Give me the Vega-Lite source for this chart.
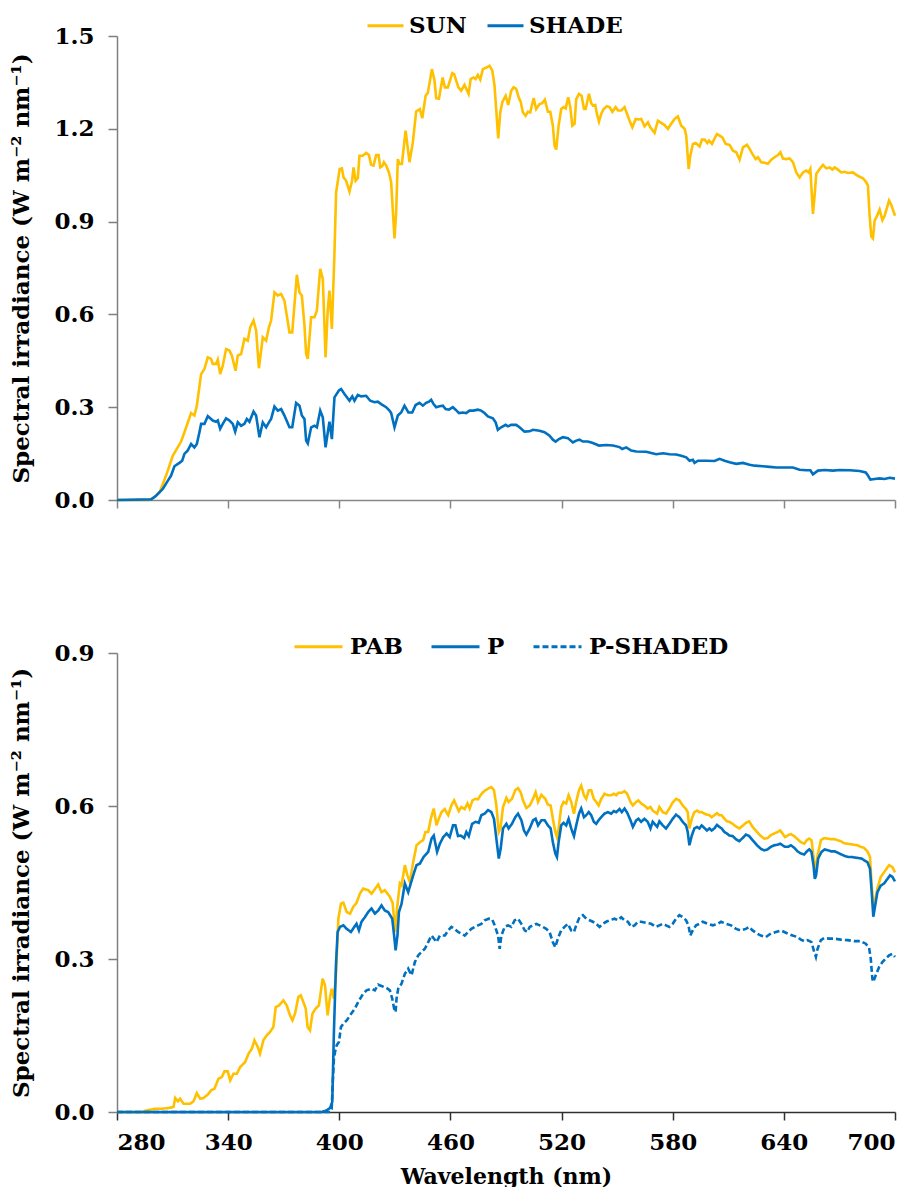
{
"$schema": "https://vega.github.io/schema/vega-lite/v6.json",
"padding": {"left": 10, "top": 6, "right": 20, "bottom": 0},
"spacing": 109,
"config": {
  "font": "DejaVu Serif",
  "view": {"stroke": null},
  "axis": {"labelFont": "DejaVu Serif", "labelFontSize": 23, "labelFontWeight": "bold", "labelColor": "#000000", "titleFont": "DejaVu Serif", "titleFontSize": 23, "titleFontWeight": "bold", "titleColor": "#000000", "grid": false, "tickSize": 9, "tickColor": "#7f7f7f", "domainColor": "#7f7f7f", "tickWidth": 1.5, "domainWidth": 1.5},
  "legend": {"labelFont": "DejaVu Serif", "labelFontSize": 23, "labelFontWeight": "bold", "labelColor": "#000000", "padding": 0}
},
"vconcat": [
{
  "width": 778, "height": 464,
  "data": {"values": [
{"s":"SUN","x":280,"y":0},{"s":"SUN","x":297,"y":0},{"s":"SUN","x":299.4,"y":0.005},{"s":"SUN","x":303,"y":0.025},{"s":"SUN","x":306.5,"y":0.079},{"s":"SUN","x":310.1,"y":0.143},{"s":"SUN","x":314.6,"y":0.189},{"s":"SUN","x":316.4,"y":0.219},{"s":"SUN","x":320,"y":0.281},{"s":"SUN","x":321.8,"y":0.273},{"s":"SUN","x":323.1,"y":0.305},{"s":"SUN","x":325.4,"y":0.407},{"s":"SUN","x":327.2,"y":0.424},{"s":"SUN","x":329,"y":0.461},{"s":"SUN","x":330.8,"y":0.456},{"s":"SUN","x":331.7,"y":0.44},{"s":"SUN","x":333.5,"y":0.44},{"s":"SUN","x":334.4,"y":0.454},{"s":"SUN","x":335.7,"y":0.407},{"s":"SUN","x":337.1,"y":0.434},{"s":"SUN","x":338.9,"y":0.488},{"s":"SUN","x":340.7,"y":0.483},{"s":"SUN","x":342,"y":0.467},{"s":"SUN","x":344,"y":0.418},{"s":"SUN","x":345.2,"y":0.467},{"s":"SUN","x":347,"y":0.472},{"s":"SUN","x":348.8,"y":0.521},{"s":"SUN","x":350.6,"y":0.515},{"s":"SUN","x":351.9,"y":0.558},{"s":"SUN","x":353.7,"y":0.58},{"s":"SUN","x":355.1,"y":0.548},{"s":"SUN","x":356.6,"y":0.426},{"s":"SUN","x":358.7,"y":0.526},{"s":"SUN","x":360.5,"y":0.515},{"s":"SUN","x":362,"y":0.558},{"s":"SUN","x":363.2,"y":0.58},{"s":"SUN","x":365,"y":0.671},{"s":"SUN","x":366.8,"y":0.661},{"s":"SUN","x":368.6,"y":0.666},{"s":"SUN","x":370.4,"y":0.644},{"s":"SUN","x":373.1,"y":0.542},{"s":"SUN","x":374.6,"y":0.542},{"s":"SUN","x":377.1,"y":0.728},{"s":"SUN","x":378.5,"y":0.671},{"s":"SUN","x":379.8,"y":0.661},{"s":"SUN","x":381.2,"y":0.564},{"s":"SUN","x":382.1,"y":0.472},{"s":"SUN","x":383,"y":0.456},{"s":"SUN","x":384.8,"y":0.591},{"s":"SUN","x":386.6,"y":0.591},{"s":"SUN","x":387.9,"y":0.612},{"s":"SUN","x":389.7,"y":0.747},{"s":"SUN","x":391.1,"y":0.715},{"s":"SUN","x":392.6,"y":0.461},{"s":"SUN","x":393.8,"y":0.618},{"s":"SUN","x":394.7,"y":0.677},{"s":"SUN","x":396,"y":0.553},{"s":"SUN","x":397.3,"y":0.78},{"s":"SUN","x":398.3,"y":0.995},{"s":"SUN","x":400.2,"y":1.07},{"s":"SUN","x":401.4,"y":1.072},{"s":"SUN","x":402.3,"y":1.043},{"s":"SUN","x":403.7,"y":1.032},{"s":"SUN","x":405.5,"y":0.997},{"s":"SUN","x":406.9,"y":1.032},{"s":"SUN","x":407.7,"y":1.075},{"s":"SUN","x":408.8,"y":1.032},{"s":"SUN","x":410,"y":1.04},{"s":"SUN","x":410.9,"y":1.113},{"s":"SUN","x":412.7,"y":1.113},{"s":"SUN","x":414.5,"y":1.122},{"s":"SUN","x":416,"y":1.115},{"s":"SUN","x":417.2,"y":1.084},{"s":"SUN","x":418.5,"y":1.081},{"s":"SUN","x":419.9,"y":1.115},{"s":"SUN","x":421.2,"y":1.115},{"s":"SUN","x":422.1,"y":1.075},{"s":"SUN","x":423.2,"y":1.079},{"s":"SUN","x":424.1,"y":1.092},{"s":"SUN","x":425.3,"y":1.081},{"s":"SUN","x":426.8,"y":1.059},{"s":"SUN","x":428,"y":1.027},{"s":"SUN","x":429.8,"y":0.846},{"s":"SUN","x":430.7,"y":0.93},{"s":"SUN","x":431.6,"y":1.102},{"s":"SUN","x":432.5,"y":1.086},{"s":"SUN","x":433.8,"y":1.086},{"s":"SUN","x":435.8,"y":1.194},{"s":"SUN","x":437.9,"y":1.092},{"s":"SUN","x":439.7,"y":1.156},{"s":"SUN","x":441.5,"y":1.256},{"s":"SUN","x":443.5,"y":1.264},{"s":"SUN","x":444.8,"y":1.234},{"s":"SUN","x":446.6,"y":1.307},{"s":"SUN","x":447.8,"y":1.316},{"s":"SUN","x":450,"y":1.393},{"s":"SUN","x":451.4,"y":1.356},{"s":"SUN","x":452.3,"y":1.299},{"s":"SUN","x":453.8,"y":1.297},{"s":"SUN","x":455.8,"y":1.366},{"s":"SUN","x":457,"y":1.334},{"s":"SUN","x":458.6,"y":1.334},{"s":"SUN","x":461,"y":1.38},{"s":"SUN","x":462,"y":1.377},{"s":"SUN","x":464.3,"y":1.334},{"s":"SUN","x":465.8,"y":1.323},{"s":"SUN","x":467.6,"y":1.342},{"s":"SUN","x":469.8,"y":1.313},{"s":"SUN","x":470.9,"y":1.361},{"s":"SUN","x":472.5,"y":1.366},{"s":"SUN","x":473.6,"y":1.361},{"s":"SUN","x":474.8,"y":1.374},{"s":"SUN","x":476.1,"y":1.359},{"s":"SUN","x":477.5,"y":1.393},{"s":"SUN","x":479.7,"y":1.399},{"s":"SUN","x":481.1,"y":1.404},{"s":"SUN","x":482.6,"y":1.388},{"s":"SUN","x":483.8,"y":1.34},{"s":"SUN","x":484.7,"y":1.264},{"s":"SUN","x":485.8,"y":1.169},{"s":"SUN","x":486.9,"y":1.253},{"s":"SUN","x":488,"y":1.286},{"s":"SUN","x":489.8,"y":1.307},{"s":"SUN","x":491.2,"y":1.277},{"s":"SUN","x":492.8,"y":1.323},{"s":"SUN","x":494.1,"y":1.334},{"s":"SUN","x":495.5,"y":1.329},{"s":"SUN","x":497,"y":1.299},{"s":"SUN","x":497.9,"y":1.288},{"s":"SUN","x":499.1,"y":1.253},{"s":"SUN","x":500.6,"y":1.242},{"s":"SUN","x":501.8,"y":1.255},{"s":"SUN","x":503.1,"y":1.253},{"s":"SUN","x":504.9,"y":1.299},{"s":"SUN","x":506.3,"y":1.264},{"s":"SUN","x":508.1,"y":1.28},{"s":"SUN","x":509.6,"y":1.283},{"s":"SUN","x":511,"y":1.294},{"s":"SUN","x":512.6,"y":1.255},{"s":"SUN","x":513.9,"y":1.255},{"s":"SUN","x":515.3,"y":1.21},{"s":"SUN","x":516.2,"y":1.146},{"s":"SUN","x":517.1,"y":1.133},{"s":"SUN","x":518.4,"y":1.21},{"s":"SUN","x":519.8,"y":1.264},{"s":"SUN","x":521.1,"y":1.27},{"s":"SUN","x":522.2,"y":1.266},{"s":"SUN","x":523.6,"y":1.302},{"s":"SUN","x":524.7,"y":1.27},{"s":"SUN","x":525.8,"y":1.21},{"s":"SUN","x":527,"y":1.216},{"s":"SUN","x":527.9,"y":1.296},{"s":"SUN","x":529.4,"y":1.313},{"s":"SUN","x":530.8,"y":1.307},{"s":"SUN","x":532.1,"y":1.264},{"s":"SUN","x":533,"y":1.264},{"s":"SUN","x":534.8,"y":1.313},{"s":"SUN","x":536,"y":1.283},{"s":"SUN","x":536.9,"y":1.275},{"s":"SUN","x":538.2,"y":1.277},{"s":"SUN","x":539.1,"y":1.248},{"s":"SUN","x":540.2,"y":1.223},{"s":"SUN","x":541.4,"y":1.248},{"s":"SUN","x":542.7,"y":1.264},{"s":"SUN","x":544.5,"y":1.273},{"s":"SUN","x":545.9,"y":1.27},{"s":"SUN","x":547.4,"y":1.255},{"s":"SUN","x":549.2,"y":1.27},{"s":"SUN","x":550.4,"y":1.259},{"s":"SUN","x":552.2,"y":1.259},{"s":"SUN","x":554,"y":1.27},{"s":"SUN","x":556.7,"y":1.226},{"s":"SUN","x":558.2,"y":1.205},{"s":"SUN","x":560,"y":1.232},{"s":"SUN","x":561.6,"y":1.23},{"s":"SUN","x":563,"y":1.232},{"s":"SUN","x":564.8,"y":1.208},{"s":"SUN","x":566.6,"y":1.221},{"s":"SUN","x":567.9,"y":1.205},{"s":"SUN","x":570.2,"y":1.187},{"s":"SUN","x":572,"y":1.226},{"s":"SUN","x":573.8,"y":1.219},{"s":"SUN","x":575.6,"y":1.212},{"s":"SUN","x":577.4,"y":1.2},{"s":"SUN","x":579.2,"y":1.216},{"s":"SUN","x":581,"y":1.232},{"s":"SUN","x":582.8,"y":1.24},{"s":"SUN","x":584.6,"y":1.21},{"s":"SUN","x":586.4,"y":1.2},{"s":"SUN","x":587.3,"y":1.178},{"s":"SUN","x":588.6,"y":1.07},{"s":"SUN","x":589.5,"y":1.113},{"s":"SUN","x":590.9,"y":1.151},{"s":"SUN","x":592.4,"y":1.154},{"s":"SUN","x":594.5,"y":1.143},{"s":"SUN","x":595.8,"y":1.165},{"s":"SUN","x":597.2,"y":1.165},{"s":"SUN","x":598.7,"y":1.154},{"s":"SUN","x":599.6,"y":1.162},{"s":"SUN","x":601.2,"y":1.151},{"s":"SUN","x":602.6,"y":1.169},{"s":"SUN","x":603.9,"y":1.183},{"s":"SUN","x":605.3,"y":1.178},{"s":"SUN","x":606.8,"y":1.172},{"s":"SUN","x":608.6,"y":1.151},{"s":"SUN","x":610.7,"y":1.148},{"s":"SUN","x":612.5,"y":1.129},{"s":"SUN","x":614.3,"y":1.124},{"s":"SUN","x":616.1,"y":1.1},{"s":"SUN","x":617.9,"y":1.14},{"s":"SUN","x":620.1,"y":1.148},{"s":"SUN","x":621.5,"y":1.135},{"s":"SUN","x":623,"y":1.119},{"s":"SUN","x":624.8,"y":1.102},{"s":"SUN","x":626,"y":1.108},{"s":"SUN","x":627.8,"y":1.092},{"s":"SUN","x":629.6,"y":1.09},{"s":"SUN","x":631.4,"y":1.087},{"s":"SUN","x":633.2,"y":1.1},{"s":"SUN","x":635,"y":1.108},{"s":"SUN","x":636.8,"y":1.115},{"s":"SUN","x":638.1,"y":1.124},{"s":"SUN","x":639.5,"y":1.104},{"s":"SUN","x":641.3,"y":1.102},{"s":"SUN","x":643.1,"y":1.104},{"s":"SUN","x":644.9,"y":1.092},{"s":"SUN","x":646.7,"y":1.059},{"s":"SUN","x":648.5,"y":1.043},{"s":"SUN","x":650.3,"y":1.059},{"s":"SUN","x":652.1,"y":1.065},{"s":"SUN","x":653.4,"y":1.059},{"s":"SUN","x":654.3,"y":1.07},{"s":"SUN","x":655.7,"y":0.925},{"s":"SUN","x":656.6,"y":0.984},{"s":"SUN","x":657.5,"y":1.054},{"s":"SUN","x":659.3,"y":1.07},{"s":"SUN","x":661.1,"y":1.083},{"s":"SUN","x":662.9,"y":1.072},{"s":"SUN","x":664.7,"y":1.075},{"s":"SUN","x":666.2,"y":1.068},{"s":"SUN","x":667.4,"y":1.075},{"s":"SUN","x":669.2,"y":1.068},{"s":"SUN","x":671,"y":1.059},{"s":"SUN","x":672.8,"y":1.061},{"s":"SUN","x":674.6,"y":1.057},{"s":"SUN","x":677.3,"y":1.059},{"s":"SUN","x":679.1,"y":1.051},{"s":"SUN","x":680.9,"y":1.045},{"s":"SUN","x":682.7,"y":1.04},{"s":"SUN","x":684.5,"y":1.027},{"s":"SUN","x":685.4,"y":1.016},{"s":"SUN","x":686.3,"y":0.919},{"s":"SUN","x":687.2,"y":0.852},{"s":"SUN","x":688.1,"y":0.846},{"s":"SUN","x":689,"y":0.903},{"s":"SUN","x":690.5,"y":0.921},{"s":"SUN","x":691.7,"y":0.939},{"s":"SUN","x":693.2,"y":0.905},{"s":"SUN","x":694.4,"y":0.919},{"s":"SUN","x":696.8,"y":0.968},{"s":"SUN","x":698,"y":0.954},{"s":"SUN","x":700,"y":0.919},
{"s":"SHADE","x":280,"y":0},{"s":"SHADE","x":298.4,"y":0.002},{"s":"SHADE","x":301.1,"y":0.014},{"s":"SHADE","x":304.7,"y":0.036},{"s":"SHADE","x":307.4,"y":0.062},{"s":"SHADE","x":309.2,"y":0.079},{"s":"SHADE","x":311,"y":0.109},{"s":"SHADE","x":313.7,"y":0.12},{"s":"SHADE","x":315.2,"y":0.127},{"s":"SHADE","x":316.4,"y":0.149},{"s":"SHADE","x":318.2,"y":0.16},{"s":"SHADE","x":320,"y":0.181},{"s":"SHADE","x":321.8,"y":0.17},{"s":"SHADE","x":323.1,"y":0.181},{"s":"SHADE","x":324.5,"y":0.219},{"s":"SHADE","x":325.4,"y":0.246},{"s":"SHADE","x":327.2,"y":0.246},{"s":"SHADE","x":329,"y":0.271},{"s":"SHADE","x":330.3,"y":0.264},{"s":"SHADE","x":331.7,"y":0.257},{"s":"SHADE","x":333.5,"y":0.253},{"s":"SHADE","x":334.4,"y":0.257},{"s":"SHADE","x":335.7,"y":0.23},{"s":"SHADE","x":337.1,"y":0.246},{"s":"SHADE","x":338.9,"y":0.264},{"s":"SHADE","x":340.7,"y":0.257},{"s":"SHADE","x":342.5,"y":0.246},{"s":"SHADE","x":343.8,"y":0.221},{"s":"SHADE","x":345.2,"y":0.251},{"s":"SHADE","x":347,"y":0.24},{"s":"SHADE","x":348.8,"y":0.246},{"s":"SHADE","x":350.1,"y":0.262},{"s":"SHADE","x":351.5,"y":0.253},{"s":"SHADE","x":353.7,"y":0.286},{"s":"SHADE","x":355.1,"y":0.273},{"s":"SHADE","x":356.9,"y":0.203},{"s":"SHADE","x":358.7,"y":0.251},{"s":"SHADE","x":360.5,"y":0.235},{"s":"SHADE","x":362,"y":0.251},{"s":"SHADE","x":363.2,"y":0.262},{"s":"SHADE","x":365,"y":0.302},{"s":"SHADE","x":366.8,"y":0.289},{"s":"SHADE","x":368.6,"y":0.294},{"s":"SHADE","x":370.4,"y":0.273},{"s":"SHADE","x":373.1,"y":0.235},{"s":"SHADE","x":374.6,"y":0.235},{"s":"SHADE","x":376.7,"y":0.314},{"s":"SHADE","x":378.5,"y":0.305},{"s":"SHADE","x":379.8,"y":0.273},{"s":"SHADE","x":381.2,"y":0.262},{"s":"SHADE","x":382.1,"y":0.192},{"s":"SHADE","x":383,"y":0.183},{"s":"SHADE","x":384.8,"y":0.235},{"s":"SHADE","x":386.6,"y":0.24},{"s":"SHADE","x":387.9,"y":0.235},{"s":"SHADE","x":389.7,"y":0.289},{"s":"SHADE","x":391.1,"y":0.267},{"s":"SHADE","x":392.6,"y":0.17},{"s":"SHADE","x":393.8,"y":0.219},{"s":"SHADE","x":394.7,"y":0.253},{"s":"SHADE","x":396,"y":0.197},{"s":"SHADE","x":397.4,"y":0.332},{"s":"SHADE","x":399.8,"y":0.354},{"s":"SHADE","x":401,"y":0.359},{"s":"SHADE","x":402.8,"y":0.343},{"s":"SHADE","x":405.5,"y":0.321},{"s":"SHADE","x":407,"y":0.335},{"s":"SHADE","x":408.2,"y":0.321},{"s":"SHADE","x":410,"y":0.34},{"s":"SHADE","x":411.8,"y":0.335},{"s":"SHADE","x":414.5,"y":0.337},{"s":"SHADE","x":416.7,"y":0.321},{"s":"SHADE","x":419,"y":0.316},{"s":"SHADE","x":420.8,"y":0.318},{"s":"SHADE","x":422.6,"y":0.31},{"s":"SHADE","x":425.3,"y":0.3},{"s":"SHADE","x":427.1,"y":0.289},{"s":"SHADE","x":428,"y":0.281},{"s":"SHADE","x":429.8,"y":0.235},{"s":"SHADE","x":431.6,"y":0.273},{"s":"SHADE","x":433.4,"y":0.283},{"s":"SHADE","x":435.2,"y":0.305},{"s":"SHADE","x":437.3,"y":0.283},{"s":"SHADE","x":439.4,"y":0.283},{"s":"SHADE","x":441.2,"y":0.307},{"s":"SHADE","x":443.3,"y":0.314},{"s":"SHADE","x":445.1,"y":0.305},{"s":"SHADE","x":446.9,"y":0.314},{"s":"SHADE","x":448.4,"y":0.318},{"s":"SHADE","x":449.6,"y":0.324},{"s":"SHADE","x":450.9,"y":0.31},{"s":"SHADE","x":452.3,"y":0.3},{"s":"SHADE","x":454.1,"y":0.303},{"s":"SHADE","x":455.9,"y":0.305},{"s":"SHADE","x":457.4,"y":0.294},{"s":"SHADE","x":459.2,"y":0.292},{"s":"SHADE","x":461.3,"y":0.3},{"s":"SHADE","x":462.8,"y":0.292},{"s":"SHADE","x":464.6,"y":0.281},{"s":"SHADE","x":466.7,"y":0.283},{"s":"SHADE","x":468.5,"y":0.281},{"s":"SHADE","x":470.3,"y":0.289},{"s":"SHADE","x":472.5,"y":0.289},{"s":"SHADE","x":474.8,"y":0.292},{"s":"SHADE","x":476.6,"y":0.289},{"s":"SHADE","x":478.4,"y":0.281},{"s":"SHADE","x":480.2,"y":0.27},{"s":"SHADE","x":482.9,"y":0.264},{"s":"SHADE","x":484.4,"y":0.251},{"s":"SHADE","x":485.6,"y":0.227},{"s":"SHADE","x":487.4,"y":0.235},{"s":"SHADE","x":489.8,"y":0.243},{"s":"SHADE","x":491,"y":0.238},{"s":"SHADE","x":492.8,"y":0.243},{"s":"SHADE","x":495.5,"y":0.243},{"s":"SHADE","x":497.3,"y":0.235},{"s":"SHADE","x":500,"y":0.221},{"s":"SHADE","x":502.7,"y":0.222},{"s":"SHADE","x":504.5,"y":0.227},{"s":"SHADE","x":508.1,"y":0.224},{"s":"SHADE","x":510.8,"y":0.219},{"s":"SHADE","x":513.5,"y":0.208},{"s":"SHADE","x":515.3,"y":0.195},{"s":"SHADE","x":516.8,"y":0.189},{"s":"SHADE","x":518.6,"y":0.197},{"s":"SHADE","x":520.7,"y":0.203},{"s":"SHADE","x":523.4,"y":0.2},{"s":"SHADE","x":526.1,"y":0.186},{"s":"SHADE","x":527.9,"y":0.192},{"s":"SHADE","x":529.7,"y":0.195},{"s":"SHADE","x":531.5,"y":0.189},{"s":"SHADE","x":534.2,"y":0.189},{"s":"SHADE","x":536.9,"y":0.184},{"s":"SHADE","x":540.2,"y":0.176},{"s":"SHADE","x":544.1,"y":0.178},{"s":"SHADE","x":547.7,"y":0.176},{"s":"SHADE","x":551.3,"y":0.171},{"s":"SHADE","x":552.8,"y":0.165},{"s":"SHADE","x":554.9,"y":0.17},{"s":"SHADE","x":557.6,"y":0.16},{"s":"SHADE","x":560.3,"y":0.157},{"s":"SHADE","x":565.7,"y":0.156},{"s":"SHADE","x":568.4,"y":0.152},{"s":"SHADE","x":571.1,"y":0.148},{"s":"SHADE","x":574.7,"y":0.151},{"s":"SHADE","x":578.3,"y":0.148},{"s":"SHADE","x":581.9,"y":0.147},{"s":"SHADE","x":584.6,"y":0.143},{"s":"SHADE","x":587.3,"y":0.138},{"s":"SHADE","x":589.1,"y":0.127},{"s":"SHADE","x":590.9,"y":0.13},{"s":"SHADE","x":591.8,"y":0.12},{"s":"SHADE","x":593.6,"y":0.127},{"s":"SHADE","x":598.1,"y":0.127},{"s":"SHADE","x":602.6,"y":0.126},{"s":"SHADE","x":605.3,"y":0.133},{"s":"SHADE","x":608,"y":0.127},{"s":"SHADE","x":610.7,"y":0.122},{"s":"SHADE","x":614.3,"y":0.117},{"s":"SHADE","x":617.9,"y":0.12},{"s":"SHADE","x":621.5,"y":0.114},{"s":"SHADE","x":624.2,"y":0.111},{"s":"SHADE","x":628.7,"y":0.109},{"s":"SHADE","x":632.3,"y":0.107},{"s":"SHADE","x":635.9,"y":0.105},{"s":"SHADE","x":641.3,"y":0.105},{"s":"SHADE","x":644.9,"y":0.105},{"s":"SHADE","x":648.5,"y":0.098},{"s":"SHADE","x":652.1,"y":0.096},{"s":"SHADE","x":654.3,"y":0.096},{"s":"SHADE","x":655.7,"y":0.083},{"s":"SHADE","x":658.4,"y":0.095},{"s":"SHADE","x":662,"y":0.097},{"s":"SHADE","x":666.5,"y":0.095},{"s":"SHADE","x":670.1,"y":0.097},{"s":"SHADE","x":675.5,"y":0.096},{"s":"SHADE","x":680.9,"y":0.094},{"s":"SHADE","x":684.2,"y":0.089},{"s":"SHADE","x":685.4,"y":0.079},{"s":"SHADE","x":686.7,"y":0.066},{"s":"SHADE","x":689,"y":0.068},{"s":"SHADE","x":691.7,"y":0.07},{"s":"SHADE","x":694.4,"y":0.068},{"s":"SHADE","x":697.1,"y":0.072},{"s":"SHADE","x":700,"y":0.069}
  ]},
  "mark": {"type": "line", "strokeWidth": 2.6},
  "encoding": {
    "x": {"field": "x", "type": "quantitative", "scale": {"domain": [280, 700], "nice": false, "zero": false},
          "axis": {"values": [280, 340, 400, 460, 520, 580, 640, 700], "labels": false, "title": null, "tickSize": 8, "domainColor": "#868686", "tickColor": "#868686"}},
    "y": {"field": "y", "type": "quantitative", "scale": {"domain": [0, 1.5], "nice": false},
          "axis": {"values": [0, 0.3, 0.6, 0.9, 1.2, 1.5], "format": ".1f", "title": "Spectral irradiance (W m⁻² nm⁻¹)", "labelPadding": 14, "titlePadding": 20}},
    "color": {"field": "s", "type": "nominal", "scale": {"domain": ["SUN", "SHADE"], "range": ["#FFC000", "#0070C0"]},
              "legend": {"title": null, "orient": "none", "legendX": 249, "legendY": -30, "direction": "horizontal", "symbolType": "stroke", "symbolSize": 1296, "symbolStrokeWidth": 3, "labelOffset": 4, "columnPadding": 14}}
  }
},
{
  "width": 778, "height": 459,
  "data": {"values": [
{"s":"PAB","x":280,"y":0},{"s":"PAB","x":293.5,"y":0},{"s":"PAB","x":295.3,"y":0.0025},{"s":"PAB","x":300.7,"y":0.0065},{"s":"PAB","x":304.3,"y":0.0065},{"s":"PAB","x":307.8,"y":0.0078},{"s":"PAB","x":310.5,"y":0.0098},{"s":"PAB","x":311.4,"y":0.0274},{"s":"PAB","x":312.9,"y":0.0209},{"s":"PAB","x":314.1,"y":0.0261},{"s":"PAB","x":315.9,"y":0.0163},{"s":"PAB","x":319.5,"y":0.0163},{"s":"PAB","x":321.3,"y":0.0209},{"s":"PAB","x":323.1,"y":0.0372},{"s":"PAB","x":324.9,"y":0.0261},{"s":"PAB","x":326.7,"y":0.0274},{"s":"PAB","x":329,"y":0.034},{"s":"PAB","x":330.8,"y":0.0424},{"s":"PAB","x":332.6,"y":0.0457},{"s":"PAB","x":334.8,"y":0.0653},{"s":"PAB","x":336.6,"y":0.0686},{"s":"PAB","x":338,"y":0.0797},{"s":"PAB","x":339.8,"y":0.0797},{"s":"PAB","x":341.1,"y":0.062},{"s":"PAB","x":342.9,"y":0.0751},{"s":"PAB","x":344.7,"y":0.0751},{"s":"PAB","x":346.5,"y":0.0882},{"s":"PAB","x":349.2,"y":0.098},{"s":"PAB","x":351,"y":0.1143},{"s":"PAB","x":352.8,"y":0.1241},{"s":"PAB","x":354.2,"y":0.1405},{"s":"PAB","x":356,"y":0.1274},{"s":"PAB","x":357.2,"y":0.1143},{"s":"PAB","x":359,"y":0.1405},{"s":"PAB","x":360.8,"y":0.1503},{"s":"PAB","x":362.6,"y":0.1568},{"s":"PAB","x":364.4,"y":0.1666},{"s":"PAB","x":365.7,"y":0.2058},{"s":"PAB","x":367.5,"y":0.2091},{"s":"PAB","x":369.8,"y":0.2189},{"s":"PAB","x":371.6,"y":0.2091},{"s":"PAB","x":373.4,"y":0.1895},{"s":"PAB","x":374.7,"y":0.1797},{"s":"PAB","x":376.1,"y":0.1928},{"s":"PAB","x":377.9,"y":0.2255},{"s":"PAB","x":379.2,"y":0.2287},{"s":"PAB","x":380.6,"y":0.2157},{"s":"PAB","x":381.9,"y":0.2026},{"s":"PAB","x":382.9,"y":0.1666},{"s":"PAB","x":384.2,"y":0.16},{"s":"PAB","x":385.5,"y":0.1928},{"s":"PAB","x":387.2,"y":0.2026},{"s":"PAB","x":389,"y":0.2091},{"s":"PAB","x":391,"y":0.2614},{"s":"PAB","x":392.3,"y":0.2483},{"s":"PAB","x":393.7,"y":0.1895},{"s":"PAB","x":395,"y":0.2255},{"s":"PAB","x":395.9,"y":0.2418},{"s":"PAB","x":397.1,"y":0.2222},{"s":"PAB","x":398.2,"y":0.2679},{"s":"PAB","x":399.5,"y":0.379},{"s":"PAB","x":400.9,"y":0.4085},{"s":"PAB","x":402.2,"y":0.4105},{"s":"PAB","x":404,"y":0.3921},{"s":"PAB","x":405.8,"y":0.3889},{"s":"PAB","x":407.5,"y":0.4019},{"s":"PAB","x":409.3,"y":0.41},{"s":"PAB","x":411.1,"y":0.428},{"s":"PAB","x":412.9,"y":0.438},{"s":"PAB","x":415.6,"y":0.435},{"s":"PAB","x":417.4,"y":0.428},{"s":"PAB","x":421,"y":0.446},{"s":"PAB","x":422.8,"y":0.431},{"s":"PAB","x":424.6,"y":0.435},{"s":"PAB","x":427.3,"y":0.422},{"s":"PAB","x":428.8,"y":0.41},{"s":"PAB","x":430.2,"y":0.353},{"s":"PAB","x":431.2,"y":0.4},{"s":"PAB","x":432.7,"y":0.448},{"s":"PAB","x":433.6,"y":0.444},{"s":"PAB","x":435.4,"y":0.484},{"s":"PAB","x":436.8,"y":0.464},{"s":"PAB","x":438.1,"y":0.451},{"s":"PAB","x":439.9,"y":0.49},{"s":"PAB","x":441.7,"y":0.523},{"s":"PAB","x":443.5,"y":0.529},{"s":"PAB","x":445.3,"y":0.533},{"s":"PAB","x":446.5,"y":0.549},{"s":"PAB","x":448,"y":0.549},{"s":"PAB","x":449.4,"y":0.575},{"s":"PAB","x":451,"y":0.595},{"s":"PAB","x":452.5,"y":0.562},{"s":"PAB","x":453.7,"y":0.575},{"s":"PAB","x":455.2,"y":0.588},{"s":"PAB","x":456.9,"y":0.594},{"s":"PAB","x":458.8,"y":0.582},{"s":"PAB","x":460.5,"y":0.601},{"s":"PAB","x":462,"y":0.611},{"s":"PAB","x":463.2,"y":0.601},{"s":"PAB","x":464.5,"y":0.59},{"s":"PAB","x":465.9,"y":0.598},{"s":"PAB","x":467.7,"y":0.594},{"s":"PAB","x":469.2,"y":0.605},{"s":"PAB","x":470.4,"y":0.595},{"s":"PAB","x":471.9,"y":0.611},{"s":"PAB","x":473.5,"y":0.614},{"s":"PAB","x":474.9,"y":0.613},{"s":"PAB","x":476.2,"y":0.621},{"s":"PAB","x":477.6,"y":0.627},{"s":"PAB","x":478.9,"y":0.631},{"s":"PAB","x":480.7,"y":0.635},{"s":"PAB","x":482.1,"y":0.637},{"s":"PAB","x":483.5,"y":0.631},{"s":"PAB","x":484.8,"y":0.601},{"s":"PAB","x":486.1,"y":0.549},{"s":"PAB","x":487,"y":0.556},{"s":"PAB","x":488.4,"y":0.598},{"s":"PAB","x":490.2,"y":0.616},{"s":"PAB","x":491.4,"y":0.608},{"s":"PAB","x":493.2,"y":0.614},{"s":"PAB","x":495,"y":0.631},{"s":"PAB","x":496.5,"y":0.635},{"s":"PAB","x":497.9,"y":0.627},{"s":"PAB","x":499.2,"y":0.611},{"s":"PAB","x":501,"y":0.596},{"s":"PAB","x":502.8,"y":0.601},{"s":"PAB","x":504.6,"y":0.614},{"s":"PAB","x":506,"y":0.627},{"s":"PAB","x":507.3,"y":0.608},{"s":"PAB","x":509.1,"y":0.622},{"s":"PAB","x":511.2,"y":0.614},{"s":"PAB","x":512.6,"y":0.603},{"s":"PAB","x":514.1,"y":0.601},{"s":"PAB","x":515.3,"y":0.575},{"s":"PAB","x":516.6,"y":0.549},{"s":"PAB","x":517.5,"y":0.539},{"s":"PAB","x":518.4,"y":0.556},{"s":"PAB","x":519.8,"y":0.598},{"s":"PAB","x":521.1,"y":0.608},{"s":"PAB","x":522.5,"y":0.605},{"s":"PAB","x":523.8,"y":0.621},{"s":"PAB","x":525.2,"y":0.608},{"s":"PAB","x":526.7,"y":0.585},{"s":"PAB","x":527.9,"y":0.608},{"s":"PAB","x":529.4,"y":0.631},{"s":"PAB","x":530.6,"y":0.64},{"s":"PAB","x":532.1,"y":0.621},{"s":"PAB","x":533.3,"y":0.614},{"s":"PAB","x":534.7,"y":0.631},{"s":"PAB","x":536,"y":0.631},{"s":"PAB","x":537.4,"y":0.614},{"s":"PAB","x":538.7,"y":0.608},{"s":"PAB","x":540,"y":0.601},{"s":"PAB","x":541.4,"y":0.614},{"s":"PAB","x":543.2,"y":0.624},{"s":"PAB","x":545,"y":0.621},{"s":"PAB","x":546.8,"y":0.621},{"s":"PAB","x":548.2,"y":0.624},{"s":"PAB","x":549.5,"y":0.621},{"s":"PAB","x":550.7,"y":0.626},{"s":"PAB","x":552.5,"y":0.626},{"s":"PAB","x":554,"y":0.629},{"s":"PAB","x":555.4,"y":0.624},{"s":"PAB","x":557.2,"y":0.608},{"s":"PAB","x":558.5,"y":0.601},{"s":"PAB","x":560.3,"y":0.608},{"s":"PAB","x":561.5,"y":0.611},{"s":"PAB","x":563,"y":0.605},{"s":"PAB","x":564.7,"y":0.601},{"s":"PAB","x":566.5,"y":0.595},{"s":"PAB","x":568,"y":0.598},{"s":"PAB","x":569.2,"y":0.591},{"s":"PAB","x":571.6,"y":0.585},{"s":"PAB","x":572.8,"y":0.598},{"s":"PAB","x":574.6,"y":0.588},{"s":"PAB","x":576.4,"y":0.585},{"s":"PAB","x":578.2,"y":0.595},{"s":"PAB","x":580,"y":0.607},{"s":"PAB","x":581.8,"y":0.614},{"s":"PAB","x":583.6,"y":0.611},{"s":"PAB","x":585.4,"y":0.601},{"s":"PAB","x":587.2,"y":0.594},{"s":"PAB","x":588.1,"y":0.588},{"s":"PAB","x":589,"y":0.556},{"s":"PAB","x":590.3,"y":0.575},{"s":"PAB","x":591.7,"y":0.588},{"s":"PAB","x":593.1,"y":0.591},{"s":"PAB","x":594.4,"y":0.588},{"s":"PAB","x":595.6,"y":0.588},{"s":"PAB","x":597.1,"y":0.585},{"s":"PAB","x":598.5,"y":0.583},{"s":"PAB","x":599.8,"y":0.582},{"s":"PAB","x":601,"y":0.578},{"s":"PAB","x":602.5,"y":0.582},{"s":"PAB","x":603.9,"y":0.586},{"s":"PAB","x":605.2,"y":0.582},{"s":"PAB","x":606.4,"y":0.582},{"s":"PAB","x":607.9,"y":0.575},{"s":"PAB","x":609.3,"y":0.57},{"s":"PAB","x":610.6,"y":0.569},{"s":"PAB","x":612.4,"y":0.565},{"s":"PAB","x":614.1,"y":0.56},{"s":"PAB","x":615.9,"y":0.556},{"s":"PAB","x":617.7,"y":0.561},{"s":"PAB","x":619.5,"y":0.567},{"s":"PAB","x":621.3,"y":0.57},{"s":"PAB","x":623.1,"y":0.559},{"s":"PAB","x":625.5,"y":0.549},{"s":"PAB","x":627.6,"y":0.541},{"s":"PAB","x":629.4,"y":0.536},{"s":"PAB","x":631.2,"y":0.537},{"s":"PAB","x":633,"y":0.543},{"s":"PAB","x":634.8,"y":0.546},{"s":"PAB","x":636.6,"y":0.549},{"s":"PAB","x":638,"y":0.552},{"s":"PAB","x":639.3,"y":0.546},{"s":"PAB","x":640.6,"y":0.539},{"s":"PAB","x":642.4,"y":0.543},{"s":"PAB","x":643.8,"y":0.545},{"s":"PAB","x":645.6,"y":0.541},{"s":"PAB","x":647.4,"y":0.535},{"s":"PAB","x":649.2,"y":0.529},{"s":"PAB","x":651,"y":0.526},{"s":"PAB","x":652.4,"y":0.533},{"s":"PAB","x":653.7,"y":0.536},{"s":"PAB","x":654.9,"y":0.533},{"s":"PAB","x":656.4,"y":0.49},{"s":"PAB","x":657.3,"y":0.474},{"s":"PAB","x":658.2,"y":0.503},{"s":"PAB","x":660,"y":0.533},{"s":"PAB","x":661.8,"y":0.537},{"s":"PAB","x":663.6,"y":0.536},{"s":"PAB","x":665.4,"y":0.535},{"s":"PAB","x":667.2,"y":0.535},{"s":"PAB","x":669,"y":0.533},{"s":"PAB","x":670.7,"y":0.531},{"s":"PAB","x":672.5,"y":0.527},{"s":"PAB","x":674.3,"y":0.526},{"s":"PAB","x":676.1,"y":0.525},{"s":"PAB","x":677.9,"y":0.524},{"s":"PAB","x":679.7,"y":0.523},{"s":"PAB","x":681.5,"y":0.52},{"s":"PAB","x":683.3,"y":0.518},{"s":"PAB","x":685.1,"y":0.511},{"s":"PAB","x":686.5,"y":0.5},{"s":"PAB","x":687.3,"y":0.451},{"s":"PAB","x":688.3,"y":0.4},{"s":"PAB","x":690.5,"y":0.438},{"s":"PAB","x":692.3,"y":0.461},{"s":"PAB","x":694.1,"y":0.47},{"s":"PAB","x":696.8,"y":0.484},{"s":"PAB","x":698.6,"y":0.48},{"s":"PAB","x":700,"y":0.47},
{"s":"P","x":280,"y":0},{"s":"P","x":390.5,"y":0},{"s":"P","x":393.2,"y":0.0033},{"s":"P","x":395,"y":0.0078},{"s":"P","x":396.2,"y":0.0196},{"s":"P","x":397.1,"y":0.157},{"s":"P","x":398.2,"y":0.288},{"s":"P","x":399.1,"y":0.353},{"s":"P","x":400.4,"y":0.363},{"s":"P","x":402.2,"y":0.366},{"s":"P","x":404,"y":0.359},{"s":"P","x":406.3,"y":0.353},{"s":"P","x":408.1,"y":0.363},{"s":"P","x":409.3,"y":0.369},{"s":"P","x":410.6,"y":0.356},{"s":"P","x":412,"y":0.373},{"s":"P","x":413.8,"y":0.382},{"s":"P","x":415.6,"y":0.392},{"s":"P","x":417.4,"y":0.399},{"s":"P","x":419.2,"y":0.389},{"s":"P","x":421,"y":0.395},{"s":"P","x":422.8,"y":0.405},{"s":"P","x":424.6,"y":0.395},{"s":"P","x":426.4,"y":0.392},{"s":"P","x":428.6,"y":0.379},{"s":"P","x":429.6,"y":0.346},{"s":"P","x":430.4,"y":0.317},{"s":"P","x":431.4,"y":0.346},{"s":"P","x":432.2,"y":0.392},{"s":"P","x":433.6,"y":0.408},{"s":"P","x":435.4,"y":0.448},{"s":"P","x":437.2,"y":0.431},{"s":"P","x":439.9,"y":0.464},{"s":"P","x":441.7,"y":0.484},{"s":"P","x":443.5,"y":0.487},{"s":"P","x":445.5,"y":0.5},{"s":"P","x":448,"y":0.51},{"s":"P","x":449.8,"y":0.536},{"s":"P","x":451,"y":0.542},{"s":"P","x":452.8,"y":0.51},{"s":"P","x":454.3,"y":0.526},{"s":"P","x":456.1,"y":0.539},{"s":"P","x":457.9,"y":0.546},{"s":"P","x":459.6,"y":0.539},{"s":"P","x":461.4,"y":0.562},{"s":"P","x":462.7,"y":0.562},{"s":"P","x":464.1,"y":0.541},{"s":"P","x":465.6,"y":0.542},{"s":"P","x":467.4,"y":0.537},{"s":"P","x":468.6,"y":0.549},{"s":"P","x":469.9,"y":0.541},{"s":"P","x":471.7,"y":0.565},{"s":"P","x":473.5,"y":0.569},{"s":"P","x":475.3,"y":0.567},{"s":"P","x":476.7,"y":0.582},{"s":"P","x":478.5,"y":0.585},{"s":"P","x":480.3,"y":0.592},{"s":"P","x":482.1,"y":0.588},{"s":"P","x":483.5,"y":0.575},{"s":"P","x":484.8,"y":0.536},{"s":"P","x":486.1,"y":0.497},{"s":"P","x":487.1,"y":0.516},{"s":"P","x":488.4,"y":0.556},{"s":"P","x":490.2,"y":0.565},{"s":"P","x":491.4,"y":0.556},{"s":"P","x":493.2,"y":0.565},{"s":"P","x":495,"y":0.578},{"s":"P","x":496.5,"y":0.585},{"s":"P","x":498.3,"y":0.572},{"s":"P","x":499.7,"y":0.552},{"s":"P","x":501,"y":0.544},{"s":"P","x":502.8,"y":0.556},{"s":"P","x":504.6,"y":0.572},{"s":"P","x":506,"y":0.575},{"s":"P","x":507.3,"y":0.562},{"s":"P","x":509.1,"y":0.572},{"s":"P","x":510.9,"y":0.572},{"s":"P","x":512.6,"y":0.562},{"s":"P","x":514.1,"y":0.556},{"s":"P","x":515.3,"y":0.529},{"s":"P","x":516.6,"y":0.507},{"s":"P","x":517.5,"y":0.5},{"s":"P","x":518.4,"y":0.529},{"s":"P","x":519.8,"y":0.562},{"s":"P","x":521.1,"y":0.567},{"s":"P","x":522.5,"y":0.562},{"s":"P","x":523.8,"y":0.575},{"s":"P","x":525.2,"y":0.556},{"s":"P","x":526.7,"y":0.541},{"s":"P","x":527.9,"y":0.562},{"s":"P","x":529.4,"y":0.585},{"s":"P","x":530.6,"y":0.595},{"s":"P","x":532.1,"y":0.578},{"s":"P","x":533.3,"y":0.582},{"s":"P","x":534.7,"y":0.588},{"s":"P","x":536,"y":0.582},{"s":"P","x":537.4,"y":0.569},{"s":"P","x":538.7,"y":0.565},{"s":"P","x":540,"y":0.572},{"s":"P","x":541.4,"y":0.578},{"s":"P","x":543.2,"y":0.585},{"s":"P","x":545,"y":0.588},{"s":"P","x":546.8,"y":0.585},{"s":"P","x":548.2,"y":0.59},{"s":"P","x":549.5,"y":0.588},{"s":"P","x":551.3,"y":0.594},{"s":"P","x":552.5,"y":0.588},{"s":"P","x":554,"y":0.595},{"s":"P","x":555.4,"y":0.587},{"s":"P","x":557.2,"y":0.572},{"s":"P","x":558.5,"y":0.559},{"s":"P","x":560.3,"y":0.572},{"s":"P","x":561.5,"y":0.575},{"s":"P","x":563,"y":0.569},{"s":"P","x":564.7,"y":0.575},{"s":"P","x":566.5,"y":0.569},{"s":"P","x":568,"y":0.556},{"s":"P","x":569.2,"y":0.569},{"s":"P","x":571.6,"y":0.559},{"s":"P","x":572.8,"y":0.57},{"s":"P","x":574.6,"y":0.562},{"s":"P","x":576.4,"y":0.556},{"s":"P","x":578.2,"y":0.565},{"s":"P","x":580,"y":0.575},{"s":"P","x":581.8,"y":0.583},{"s":"P","x":583.6,"y":0.578},{"s":"P","x":585.4,"y":0.569},{"s":"P","x":587.2,"y":0.562},{"s":"P","x":588.1,"y":0.549},{"s":"P","x":589,"y":0.523},{"s":"P","x":590.3,"y":0.542},{"s":"P","x":591.7,"y":0.556},{"s":"P","x":593.1,"y":0.559},{"s":"P","x":594.4,"y":0.556},{"s":"P","x":595.6,"y":0.562},{"s":"P","x":597.1,"y":0.557},{"s":"P","x":598.5,"y":0.552},{"s":"P","x":599.8,"y":0.556},{"s":"P","x":601,"y":0.552},{"s":"P","x":602.5,"y":0.556},{"s":"P","x":603.9,"y":0.563},{"s":"P","x":605.2,"y":0.559},{"s":"P","x":606.4,"y":0.556},{"s":"P","x":607.9,"y":0.549},{"s":"P","x":609.3,"y":0.546},{"s":"P","x":610.6,"y":0.542},{"s":"P","x":612.4,"y":0.541},{"s":"P","x":614.1,"y":0.535},{"s":"P","x":615.9,"y":0.531},{"s":"P","x":617.7,"y":0.537},{"s":"P","x":619.5,"y":0.544},{"s":"P","x":621.3,"y":0.541},{"s":"P","x":623.1,"y":0.533},{"s":"P","x":625.5,"y":0.523},{"s":"P","x":627.6,"y":0.516},{"s":"P","x":629.4,"y":0.513},{"s":"P","x":631.2,"y":0.515},{"s":"P","x":633,"y":0.52},{"s":"P","x":634.8,"y":0.523},{"s":"P","x":636.6,"y":0.524},{"s":"P","x":638,"y":0.526},{"s":"P","x":639.3,"y":0.523},{"s":"P","x":640.6,"y":0.52},{"s":"P","x":642.4,"y":0.52},{"s":"P","x":643.8,"y":0.523},{"s":"P","x":645.6,"y":0.518},{"s":"P","x":647.4,"y":0.511},{"s":"P","x":649.2,"y":0.507},{"s":"P","x":651,"y":0.505},{"s":"P","x":652.4,"y":0.511},{"s":"P","x":653.7,"y":0.515},{"s":"P","x":654.9,"y":0.51},{"s":"P","x":656,"y":0.484},{"s":"P","x":656.7,"y":0.457},{"s":"P","x":657.4,"y":0.464},{"s":"P","x":658.5,"y":0.497},{"s":"P","x":660.3,"y":0.51},{"s":"P","x":662.1,"y":0.515},{"s":"P","x":663.9,"y":0.513},{"s":"P","x":665.7,"y":0.511},{"s":"P","x":667.5,"y":0.511},{"s":"P","x":669.3,"y":0.508},{"s":"P","x":671.1,"y":0.505},{"s":"P","x":672.9,"y":0.502},{"s":"P","x":674.7,"y":0.5},{"s":"P","x":676.5,"y":0.5},{"s":"P","x":678.3,"y":0.499},{"s":"P","x":680.1,"y":0.498},{"s":"P","x":681.9,"y":0.497},{"s":"P","x":683.7,"y":0.493},{"s":"P","x":685.1,"y":0.49},{"s":"P","x":686.5,"y":0.477},{"s":"P","x":687.3,"y":0.438},{"s":"P","x":688.3,"y":0.383},{"s":"P","x":690.5,"y":0.431},{"s":"P","x":692.3,"y":0.444},{"s":"P","x":694.1,"y":0.448},{"s":"P","x":695.9,"y":0.457},{"s":"P","x":697.3,"y":0.464},{"s":"P","x":698.6,"y":0.461},{"s":"P","x":700,"y":0.452},
{"s":"P-SHADED","x":280,"y":0},{"s":"P-SHADED","x":395,"y":0},{"s":"P-SHADED","x":395.9,"y":0.0065},{"s":"P-SHADED","x":396.4,"y":0.052},{"s":"P-SHADED","x":397.1,"y":0.1045},{"s":"P-SHADED","x":397.7,"y":0.1176},{"s":"P-SHADED","x":398.6,"y":0.1307},{"s":"P-SHADED","x":399.8,"y":0.1372},{"s":"P-SHADED","x":400.9,"y":0.1666},{"s":"P-SHADED","x":402.2,"y":0.1732},{"s":"P-SHADED","x":404,"y":0.1797},{"s":"P-SHADED","x":405.8,"y":0.1895},{"s":"P-SHADED","x":408.4,"y":0.2026},{"s":"P-SHADED","x":410.2,"y":0.2157},{"s":"P-SHADED","x":412.9,"y":0.232},{"s":"P-SHADED","x":414.7,"y":0.2385},{"s":"P-SHADED","x":417.4,"y":0.2418},{"s":"P-SHADED","x":419.2,"y":0.2385},{"s":"P-SHADED","x":421,"y":0.2496},{"s":"P-SHADED","x":422.8,"y":0.247},{"s":"P-SHADED","x":425.5,"y":0.2431},{"s":"P-SHADED","x":427.3,"y":0.2385},{"s":"P-SHADED","x":428.6,"y":0.2222},{"s":"P-SHADED","x":429.6,"y":0.2026},{"s":"P-SHADED","x":430.4,"y":0.1961},{"s":"P-SHADED","x":430.9,"y":0.2222},{"s":"P-SHADED","x":431.8,"y":0.2418},{"s":"P-SHADED","x":433.6,"y":0.2516},{"s":"P-SHADED","x":435.4,"y":0.271},{"s":"P-SHADED","x":437.2,"y":0.281},{"s":"P-SHADED","x":439,"y":0.268},{"s":"P-SHADED","x":440.8,"y":0.294},{"s":"P-SHADED","x":442.6,"y":0.307},{"s":"P-SHADED","x":444.4,"y":0.314},{"s":"P-SHADED","x":446.2,"y":0.32},{"s":"P-SHADED","x":448,"y":0.333},{"s":"P-SHADED","x":449.8,"y":0.346},{"s":"P-SHADED","x":452.5,"y":0.333},{"s":"P-SHADED","x":454.3,"y":0.346},{"s":"P-SHADED","x":457,"y":0.346},{"s":"P-SHADED","x":458.8,"y":0.356},{"s":"P-SHADED","x":460.5,"y":0.363},{"s":"P-SHADED","x":462.3,"y":0.359},{"s":"P-SHADED","x":464.1,"y":0.353},{"s":"P-SHADED","x":465.9,"y":0.35},{"s":"P-SHADED","x":467.7,"y":0.346},{"s":"P-SHADED","x":469.5,"y":0.353},{"s":"P-SHADED","x":471.3,"y":0.359},{"s":"P-SHADED","x":473.1,"y":0.363},{"s":"P-SHADED","x":474.9,"y":0.366},{"s":"P-SHADED","x":476.7,"y":0.369},{"s":"P-SHADED","x":478.5,"y":0.376},{"s":"P-SHADED","x":480.7,"y":0.379},{"s":"P-SHADED","x":482.5,"y":0.378},{"s":"P-SHADED","x":483.9,"y":0.366},{"s":"P-SHADED","x":485.7,"y":0.346},{"s":"P-SHADED","x":486.6,"y":0.32},{"s":"P-SHADED","x":487.5,"y":0.346},{"s":"P-SHADED","x":489.3,"y":0.363},{"s":"P-SHADED","x":491.1,"y":0.366},{"s":"P-SHADED","x":492.9,"y":0.363},{"s":"P-SHADED","x":494.7,"y":0.376},{"s":"P-SHADED","x":496.5,"y":0.379},{"s":"P-SHADED","x":498.3,"y":0.369},{"s":"P-SHADED","x":500.1,"y":0.356},{"s":"P-SHADED","x":501.5,"y":0.353},{"s":"P-SHADED","x":502.8,"y":0.363},{"s":"P-SHADED","x":504.6,"y":0.366},{"s":"P-SHADED","x":506.4,"y":0.369},{"s":"P-SHADED","x":508.2,"y":0.366},{"s":"P-SHADED","x":509.9,"y":0.363},{"s":"P-SHADED","x":511.7,"y":0.359},{"s":"P-SHADED","x":513.5,"y":0.353},{"s":"P-SHADED","x":515.3,"y":0.333},{"s":"P-SHADED","x":516.6,"y":0.323},{"s":"P-SHADED","x":518,"y":0.34},{"s":"P-SHADED","x":519.8,"y":0.356},{"s":"P-SHADED","x":521.6,"y":0.363},{"s":"P-SHADED","x":523.4,"y":0.369},{"s":"P-SHADED","x":525.2,"y":0.356},{"s":"P-SHADED","x":526.7,"y":0.353},{"s":"P-SHADED","x":527.9,"y":0.366},{"s":"P-SHADED","x":529.7,"y":0.382},{"s":"P-SHADED","x":531.5,"y":0.386},{"s":"P-SHADED","x":533.3,"y":0.379},{"s":"P-SHADED","x":535.1,"y":0.376},{"s":"P-SHADED","x":536.9,"y":0.373},{"s":"P-SHADED","x":538.7,"y":0.369},{"s":"P-SHADED","x":540.5,"y":0.363},{"s":"P-SHADED","x":542.3,"y":0.369},{"s":"P-SHADED","x":544.1,"y":0.373},{"s":"P-SHADED","x":545.9,"y":0.376},{"s":"P-SHADED","x":548.6,"y":0.379},{"s":"P-SHADED","x":550.4,"y":0.376},{"s":"P-SHADED","x":552.2,"y":0.382},{"s":"P-SHADED","x":554,"y":0.376},{"s":"P-SHADED","x":555.8,"y":0.373},{"s":"P-SHADED","x":557.6,"y":0.363},{"s":"P-SHADED","x":559.4,"y":0.366},{"s":"P-SHADED","x":561.2,"y":0.373},{"s":"P-SHADED","x":563,"y":0.373},{"s":"P-SHADED","x":565.6,"y":0.371},{"s":"P-SHADED","x":568.3,"y":0.369},{"s":"P-SHADED","x":571,"y":0.363},{"s":"P-SHADED","x":572.8,"y":0.366},{"s":"P-SHADED","x":574.6,"y":0.369},{"s":"P-SHADED","x":576.4,"y":0.366},{"s":"P-SHADED","x":578.2,"y":0.363},{"s":"P-SHADED","x":580,"y":0.369},{"s":"P-SHADED","x":581.8,"y":0.379},{"s":"P-SHADED","x":583.6,"y":0.386},{"s":"P-SHADED","x":585.4,"y":0.382},{"s":"P-SHADED","x":587.2,"y":0.376},{"s":"P-SHADED","x":588.5,"y":0.366},{"s":"P-SHADED","x":589.5,"y":0.346},{"s":"P-SHADED","x":590.8,"y":0.356},{"s":"P-SHADED","x":592.6,"y":0.366},{"s":"P-SHADED","x":594.4,"y":0.369},{"s":"P-SHADED","x":596.2,"y":0.373},{"s":"P-SHADED","x":598.9,"y":0.369},{"s":"P-SHADED","x":601.6,"y":0.366},{"s":"P-SHADED","x":604.3,"y":0.369},{"s":"P-SHADED","x":606.1,"y":0.373},{"s":"P-SHADED","x":608.8,"y":0.369},{"s":"P-SHADED","x":611.5,"y":0.366},{"s":"P-SHADED","x":614.2,"y":0.359},{"s":"P-SHADED","x":616.8,"y":0.356},{"s":"P-SHADED","x":619.5,"y":0.359},{"s":"P-SHADED","x":621.3,"y":0.363},{"s":"P-SHADED","x":623.1,"y":0.356},{"s":"P-SHADED","x":625.5,"y":0.35},{"s":"P-SHADED","x":627.6,"y":0.346},{"s":"P-SHADED","x":630.3,"y":0.343},{"s":"P-SHADED","x":633,"y":0.35},{"s":"P-SHADED","x":635.7,"y":0.353},{"s":"P-SHADED","x":638.4,"y":0.356},{"s":"P-SHADED","x":640.2,"y":0.353},{"s":"P-SHADED","x":642,"y":0.35},{"s":"P-SHADED","x":644.7,"y":0.346},{"s":"P-SHADED","x":647.4,"y":0.343},{"s":"P-SHADED","x":649.2,"y":0.338},{"s":"P-SHADED","x":651,"y":0.335},{"s":"P-SHADED","x":652.8,"y":0.337},{"s":"P-SHADED","x":654.9,"y":0.333},{"s":"P-SHADED","x":656.4,"y":0.314},{"s":"P-SHADED","x":657.3,"y":0.304},{"s":"P-SHADED","x":658.2,"y":0.32},{"s":"P-SHADED","x":660,"y":0.337},{"s":"P-SHADED","x":661.8,"y":0.341},{"s":"P-SHADED","x":664.4,"y":0.34},{"s":"P-SHADED","x":667.2,"y":0.34},{"s":"P-SHADED","x":670.7,"y":0.338},{"s":"P-SHADED","x":674.3,"y":0.337},{"s":"P-SHADED","x":677.9,"y":0.335},{"s":"P-SHADED","x":681.5,"y":0.335},{"s":"P-SHADED","x":684.2,"y":0.33},{"s":"P-SHADED","x":686,"y":0.322},{"s":"P-SHADED","x":686.9,"y":0.301},{"s":"P-SHADED","x":687.8,"y":0.261},{"s":"P-SHADED","x":688.3,"y":0.255},{"s":"P-SHADED","x":689.6,"y":0.268},{"s":"P-SHADED","x":691.4,"y":0.284},{"s":"P-SHADED","x":693.2,"y":0.294},{"s":"P-SHADED","x":695,"y":0.301},{"s":"P-SHADED","x":696.8,"y":0.307},{"s":"P-SHADED","x":698.6,"y":0.31},{"s":"P-SHADED","x":700,"y":0.304}
  ]},
  "mark": {"type": "line", "strokeWidth": 2.6},
  "encoding": {
    "x": {"field": "x", "type": "quantitative", "scale": {"domain": [280, 700], "nice": false, "zero": false},
          "axis": {"values": [280, 340, 400, 460, 520, 580, 640, 700], "title": "Wavelength (nm)", "titleFontSize": 22, "tickSize": 8, "labelPadding": 11, "titlePadding": 12, "domainColor": "#303030", "tickColor": "#303030"}},
    "y": {"field": "y", "type": "quantitative", "scale": {"domain": [0, 0.9], "nice": false},
          "axis": {"values": [0, 0.3, 0.6, 0.9], "format": ".1f", "title": "Spectral irradiance (W m⁻² nm⁻¹)", "labelPadding": 14, "titlePadding": 20}},
    "color": {"field": "s", "type": "nominal", "scale": {"domain": ["PAB", "P", "P-SHADED"], "range": ["#FFC000", "#0070C0", "#0070C0"]},
              "legend": {"title": null, "orient": "none", "legendX": 176, "legendY": -32, "direction": "horizontal", "symbolType": "stroke", "symbolSize": 2304, "symbolStrokeWidth": 3, "labelOffset": 6, "columnPadding": 22}},
    "strokeDash": {"field": "s", "type": "nominal", "scale": {"domain": ["PAB", "P", "P-SHADED"], "range": [[1, 0], [1, 0], [6, 3]]},
              "legend": {"title": null, "orient": "none", "legendX": 176, "legendY": -32, "direction": "horizontal", "symbolType": "stroke", "symbolSize": 2304, "symbolStrokeWidth": 3, "labelOffset": 6, "columnPadding": 22}}
  }
}
],
"resolve": {"scale": {"color": "independent", "strokeDash": "independent"}, "legend": {"color": "independent", "strokeDash": "independent"}}
}
